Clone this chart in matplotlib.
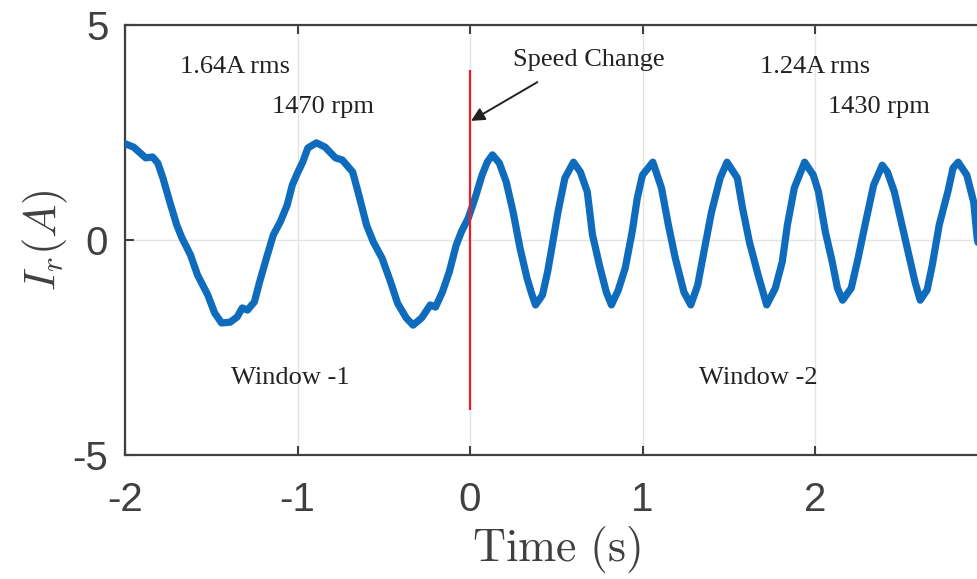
import matplotlib
matplotlib.use("Agg")
import matplotlib.pyplot as plt

# rotor current, window 1 (before speed change)
t_win1 = [-2.00, -1.95, -1.88, -1.84, -1.81, -1.78, -1.74, -1.70, -1.67, -1.62,
          -1.58, -1.52, -1.48, -1.44, -1.39, -1.35, -1.32, -1.29, -1.25, -1.22,
          -1.18, -1.14, -1.10, -1.06, -1.03, -1.00, -0.97, -0.94, -0.89, -0.84,
          -0.78, -0.74, -0.68, -0.64, -0.60, -0.56, -0.51, -0.46, -0.42, -0.37,
          -0.33, -0.28, -0.23, -0.20, -0.16, -0.12, -0.08, -0.05, -0.01]
i_win1 = [2.24, 2.16, 1.91, 1.93, 1.79, 1.44, 0.88, 0.35, 0.05, -0.35,
          -0.81, -1.28, -1.70, -1.93, -1.91, -1.79, -1.58, -1.63, -1.44, -0.98,
          -0.42, 0.12, 0.42, 0.81, 1.28, 1.56, 1.81, 2.14, 2.26, 2.16,
          1.91, 1.86, 1.58, 0.98, 0.35, -0.05, -0.42, -0.98, -1.47, -1.81,
          -1.98, -1.81, -1.51, -1.56, -1.21, -0.74, -0.12, 0.19, 0.51]

# window 2 (after speed change)
t_win2 = [0.03, 0.07, 0.10, 0.13, 0.17, 0.21, 0.25, 0.29, 0.33, 0.36,
          0.38, 0.42, 0.45, 0.48, 0.51, 0.55, 0.60, 0.64, 0.68, 0.71,
          0.75, 0.79, 0.82, 0.86, 0.90, 0.94, 0.97, 1.00, 1.06, 1.11,
          1.15, 1.19, 1.24, 1.28, 1.32, 1.36, 1.40, 1.45, 1.49, 1.55,
          1.58, 1.62, 1.67, 1.72, 1.77, 1.81, 1.84, 1.88, 1.94, 1.99,
          2.02, 2.06, 2.10, 2.13, 2.16, 2.21, 2.25, 2.29, 2.34, 2.39,
          2.42, 2.46, 2.50, 2.54, 2.58, 2.61, 2.65, 2.68, 2.72, 2.77,
          2.80, 2.83, 2.88, 2.92, 2.94, 2.97]
i_win2 = [0.98, 1.51, 1.81, 1.98, 1.79, 1.35, 0.65, -0.19, -0.88, -1.28,
          -1.51, -1.28, -0.74, -0.05, 0.65, 1.44, 1.81, 1.58, 1.12, 0.12,
          -0.58, -1.21, -1.51, -1.16, -0.65, 0.19, 0.98, 1.51, 1.81, 1.21,
          0.35, -0.42, -1.21, -1.51, -1.05, -0.19, 0.65, 1.44, 1.81, 1.44,
          0.74, -0.05, -0.81, -1.51, -1.12, -0.51, 0.35, 1.21, 1.81, 1.51,
          1.12, 0.19, -0.51, -1.12, -1.40, -1.12, -0.42, 0.35, 1.28, 1.74,
          1.58, 1.12, 0.42, -0.28, -0.98, -1.40, -1.16, -0.58, 0.35, 1.12,
          1.67, 1.81, 1.51, 0.88, 0.05, -0.60]

change_t = 0.0
change_span = (-3.95, 3.95)

x_ticks = [-2, -1, 0, 1, 2]
y_ticks = [-5, 0, 5]

plt.rcParams['mathtext.fontset'] = 'cm'
plt.rcParams['axes.unicode_minus'] = False
dark = '#404040'

fig = plt.figure(figsize=(9.78, 5.79), dpi=100)
ax = fig.add_axes([125 / 978, 124 / 579, 862.5 / 978, 430 / 579])

ax.plot(t_win1 + t_win2, i_win1 + i_win2, color='#0f6cbd', lw=5.2,
        solid_joinstyle='round', solid_capstyle='round', zorder=3)
ax.vlines(change_t, change_span[0], change_span[1], color='#ee1c25', lw=1.6, zorder=4)

ax.set_xlim(-2, 3)
ax.set_ylim(-5, 5)
ax.set_xticks(x_ticks)
ax.set_yticks(y_ticks)
ax.grid(True, color='#e3e3e3', lw=1.0)
ax.set_axisbelow(True)

for side in ['left', 'bottom', 'top', 'right']:
    ax.spines[side].set_color(dark)
    ax.spines[side].set_linewidth(1.6)

ax.tick_params(direction='in', length=6.5, width=1.5, color=dark,
               top=True, right=False, labelcolor=dark)
ax.tick_params(axis='x', pad=19)
ax.tick_params(axis='y', pad=12)
for lab in ax.get_xticklabels() + ax.get_yticklabels():
    lab.set_fontfamily('Liberation Sans')
    lab.set_fontsize(29)

ax.set_xlabel(r'$\mathrm{Time\ (s)}$', fontsize=33, color=dark, labelpad=3)
ax.set_ylabel(r'$I_r(A)$', fontsize=32, color=dark, labelpad=2)

serif = dict(family='Liberation Serif', fontsize=19, color='#222222',
             ha='center', va='center')
ax.text(-1.36, 4.02, '1.64A rms', **serif)
ax.text(-0.85, 3.09, '1470 rpm', **serif)
ax.text(2.00, 4.02, '1.24A rms', **serif)
ax.text(2.37, 3.09, '1430 rpm', **serif)
ax.text(-1.04, -3.20, 'Window -1', **serif)
ax.text(1.67, -3.20, 'Window -2', **serif)

ax.annotate('', xy=(0.006, 2.77), xytext=(0.39, 3.67),
            arrowprops=dict(arrowstyle='-|>', color='#222222', lw=1.4,
                            mutation_scale=20, shrinkA=0, shrinkB=0))
ax.text(0.69, 4.19, 'Speed Change', **serif)

fig.savefig('out.png', dpi=100)
